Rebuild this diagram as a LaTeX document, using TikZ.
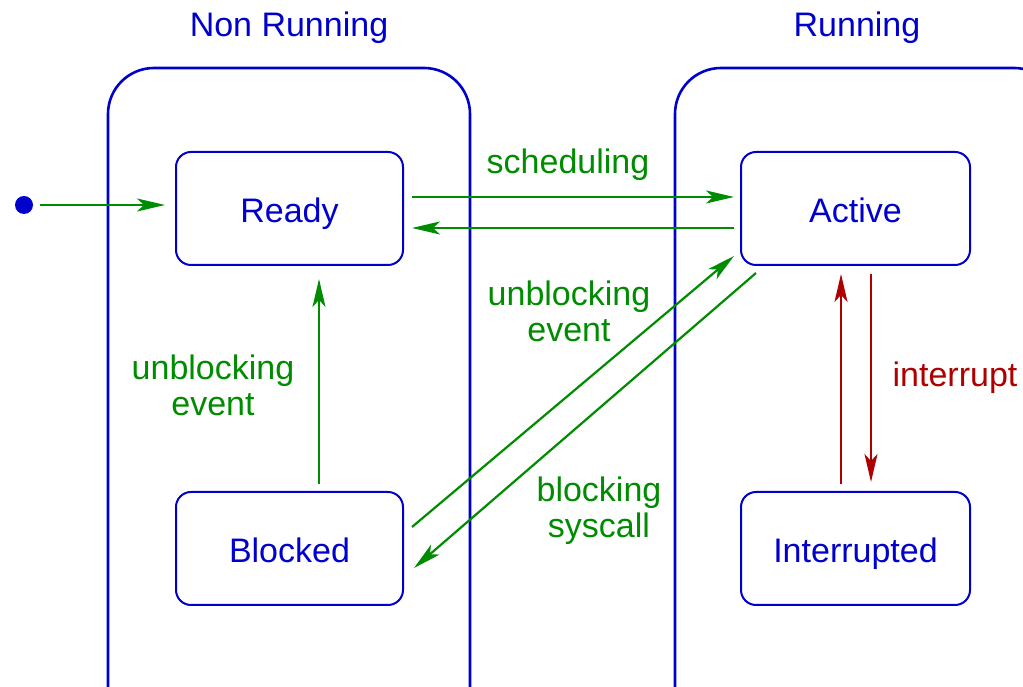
\documentclass[tikz,border=0pt]{standalone}
\usepackage{fontspec}
\setmainfont{Liberation Sans}
\usetikzlibrary{arrows.meta,calc}
\definecolor{stblue}{RGB}{0,0,205}
\definecolor{stgreen}{RGB}{0,140,0}
\definecolor{stred}{RGB}{175,0,0}
\tikzset{
  x=1pt,y=1pt,
  every node/.style={font=\fontsize{34}{36}\selectfont},
  region/.style={draw=stblue,line width=2.6pt,rounded corners=46pt},
  state/.style={draw=stblue,line width=2pt,rounded corners=15pt,text=stblue,
    minimum width=227pt,minimum height=113pt,inner sep=0pt,
    text height=29pt,text depth=0pt},
  title/.style={text=stblue,anchor=base},
  tip/.style={-{Stealth[length=28pt,width=13pt,inset=7pt]}},
  trans/.style={tip,draw=stgreen,line width=2.2pt},
  itrans/.style={tip,draw=stred,line width=2.2pt},
  glabel/.style={text=stgreen,align=center},
  rlabel/.style={text=stred,anchor=base}
}
\begin{document}
\begin{tikzpicture}
\useasboundingbox (0,0) rectangle (1023,687);
\begin{scope}
\clip (0,0) rectangle (1023,687);
% the two composite states
\draw[region] (108,-60) rectangle (470,619);
\draw[region] (675,-60) rectangle (1060,619);
\end{scope}
\node[title] (tNR) at (289,650) {Non Running};
\node[title] (tR) at (857,650) {Running};

% simple states
\node[state] (ready) at (289.5,478.5) {Ready};
\node[state,minimum width=229pt] (active) at (855.5,478.5) {Active};
\node[state] (blocked) at (289.5,138.5) {Blocked};
\node[state,minimum width=229pt] (interrupted) at (855.5,138.5) {Interrupted};

% initial pseudo state
\node[circle,fill=stblue,minimum size=18pt,inner sep=0pt] (init) at (24,482) {};
\draw[trans,shorten <=7pt,shorten >=10pt] (init) -- (init -| ready.west);

% transitions
\draw[trans] ([xshift=8pt,yshift=11.5pt]ready.east) -- ([xshift=-6pt,yshift=11.5pt]active.west);
\draw[trans] ([xshift=-6pt,yshift=-19.5pt]active.west) -- ([xshift=8pt,yshift=-19.5pt]ready.east);
\draw[trans] ([xshift=8pt,yshift=21.5pt]blocked.east) -- ([xshift=-6pt,yshift=10pt]active.south west);
\draw[trans] ([xshift=16pt,yshift=-7pt]active.south west) -- ([xshift=10pt,yshift=-19.5pt]blocked.east);
\draw[trans] ([xshift=29.5pt,yshift=7pt]blocked.north) -- ([xshift=29.5pt,yshift=-13pt]ready.south);
\draw[itrans] ([xshift=-14.5pt,yshift=7pt]interrupted.north) -- ([xshift=-14.5pt,yshift=-8pt]active.south);
\draw[itrans] ([xshift=15.5pt,yshift=-8pt]active.south) -- ([xshift=15.5pt,yshift=9pt]interrupted.north);

% transition labels
\node[glabel,anchor=base] (lsched) at (568,513) {scheduling};
\node[glabel] (lunb1) at (569,376) {unblocking\\event};
\node[glabel] (lunb2) at (213,302) {unblocking\\event};
\node[glabel] (lblk) at (599,176) {blocking\\syscall};
\node[rlabel] (lint) at (955,300) {interrupt};
\end{tikzpicture}
\end{document}
